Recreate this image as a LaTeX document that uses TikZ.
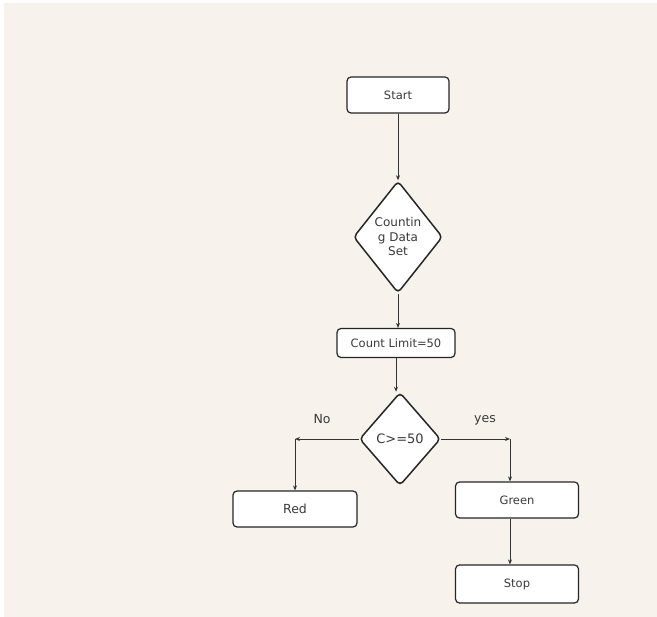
\documentclass[tikz,border=0pt]{standalone}
\usepackage{fontspec}
\setmainfont{DejaVu Sans}
\usetikzlibrary{shapes.geometric,arrows.meta}
\definecolor{paper}{HTML}{F7F2EB}
\definecolor{ink}{HTML}{3A3A3A}
\begin{document}
\begin{tikzpicture}[
x=1pt,y=-1pt,
box/.style={rectangle,rounded corners=4pt,draw=black!85,line width=1.2pt,fill=white,text=ink,font=\fontsize{11.5}{13}\selectfont},
decision/.style={diamond,aspect=0.8,rounded corners=4pt,draw=black!85,line width=1.5pt,fill=white,text=ink,inner sep=0pt,align=center},
flow/.style={-{Stealth[length=5pt,width=4pt]},line width=0.8pt,draw=black!80},
tag/.style={text=ink,font=\fontsize{12.5}{14}\selectfont}
]
\useasboundingbox (0,0) rectangle (657,617);
\fill[paper] (4,3) rectangle (657,617);
% nodes
\node[box,minimum width=102pt,minimum height=36pt] (start) at (398,95) {Start};
\node[decision,minimum width=89pt,minimum height=112pt,font=\fontsize{12}{14.5}\selectfont] (data) at (398,237) {Countin\\g Data\\Set};
\node[box,minimum width=118pt,minimum height=29pt] (limit) at (396,343) {Count Limit=50};
\node[decision,minimum width=81pt,minimum height=93pt,font=\fontsize{13}{15}\selectfont] (check) at (400,439) {C>=50};
\node[box,minimum width=124pt,minimum height=36pt,font=\fontsize{12.5}{14}\selectfont] (red) at (295,509) {Red};
\node[box,minimum width=123pt,minimum height=36pt] (green) at (517,500) {Green};
\node[box,minimum width=123pt,minimum height=38pt] (stop) at (517,584) {Stop};
\node[tag] (no) at (322,419) {No};
\node[tag] (yes) at (485,420) {yes};
\coordinate (noturn) at (red.north |- check.west);
\coordinate (yesturn) at (510,439);
% connectors
\draw[flow] (start.south) -- (data.north);
\draw[flow] (data.south) -- (data.south |- limit.north);
\draw[flow] (limit.south) -- (limit.south |- check.north);
\draw[flow] (check.west) -- (noturn);
\draw[flow] (noturn) -- (red.north);
\draw[flow] (check.east) -- (yesturn);
\draw[flow] (yesturn) -- (yesturn |- green.north);
\draw[flow] (yesturn |- green.south) -- (yesturn |- stop.north);
\end{tikzpicture}
\end{document}
